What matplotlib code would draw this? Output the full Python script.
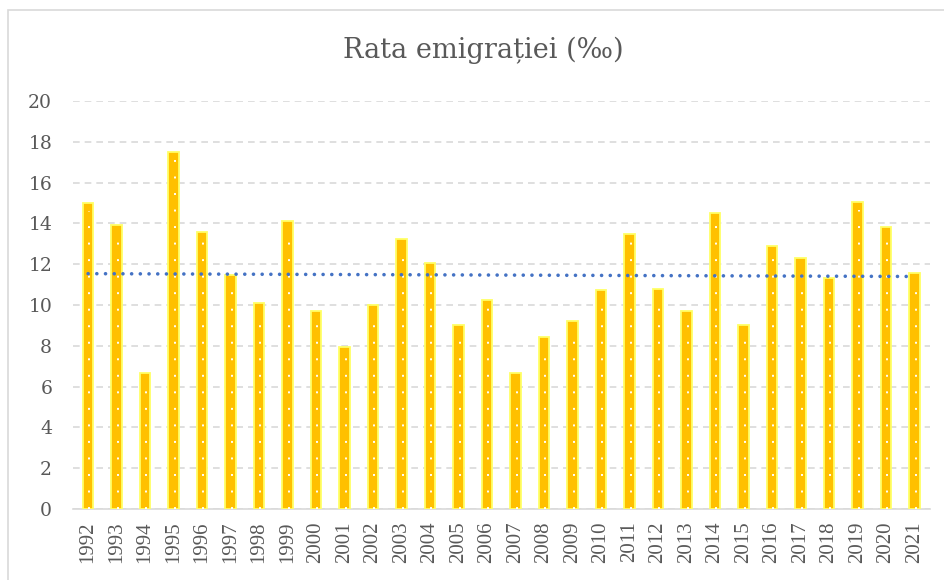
import numpy as np
import matplotlib
matplotlib.use("Agg")
import matplotlib.pyplot as plt
from matplotlib.patches import Rectangle

# Rata emigratiei, promile, 1992-2021
years = list(range(1992, 2022))
rates = [15.0, 13.9, 6.65, 17.5, 13.6, 11.45, 10.1, 14.1, 9.73, 7.95,
         10.02, 13.23, 12.05, 9.0, 10.23, 6.65, 8.45, 9.22, 10.75, 13.5,
         10.77, 9.71, 14.53, 9.02, 12.87, 12.3, 11.3, 15.06, 13.8, 11.57]
y_ticks = list(range(0, 21, 2))
title = "Rata emigrației (‰)"

text_col = "#595959"
grid_col = "#D9D9D9"

fig = plt.figure(figsize=(9.45, 5.8), dpi=100)
fig.patches.append(Rectangle((8 / 945, -0.02), 1.0, 570 / 580 + 0.02,
                             transform=fig.transFigure, fill=False,
                             edgecolor=grid_col, linewidth=1.2))
ax = fig.add_axes([73 / 945, 71 / 580, 857 / 945, 408 / 580])

x = np.arange(len(years))
ax.bar(x, rates, width=0.36, color="#FFC000", edgecolor="#FFFF66",
       linewidth=1.3, zorder=3)
# white dotted pattern inside the bars
ax.vlines(x + 0.04, 0, np.array(rates) - 0.4, colors="white",
          linestyles=(0, (1, 7.5)), linewidth=1.4, zorder=4)

# linear trend line (Excel style)
k, b = np.polyfit(x, rates, 1)
ax.plot(x, k * x + b, color="#4472C4", linewidth=2.6,
        linestyle=(0, (0.01, 2.4)), dash_capstyle="round", zorder=5)

ax.set_xlim(-0.53, 29.54)
ax.set_ylim(0, 20)
ax.set_yticks(y_ticks)
ax.set_xticks(x)
ax.set_xticklabels([str(v) for v in years], rotation=90)
ax.yaxis.grid(True, color=grid_col, linestyle=(0, (4, 3)), linewidth=1.2, zorder=0)
ax.set_axisbelow(True)
for s in ["top", "right", "left"]:
    ax.spines[s].set_visible(False)
ax.spines["bottom"].set_color(grid_col)
ax.spines["bottom"].set_linewidth(1.2)
ax.tick_params(axis="both", length=0, labelcolor=text_col)
ax.tick_params(axis="y", pad=15, labelsize=13.5)
ax.tick_params(axis="x", pad=9, labelsize=15)
for lab in ax.get_yticklabels():
    lab.set_fontfamily("DejaVu Serif")
for lab in ax.get_xticklabels():
    lab.set_fontfamily("Liberation Serif")

fig.text(483 / 945, 1 - 50 / 580, title, ha="center", va="center",
         fontsize=19.5, color=text_col, family="DejaVu Serif")

fig.savefig("out.png", dpi=100)
